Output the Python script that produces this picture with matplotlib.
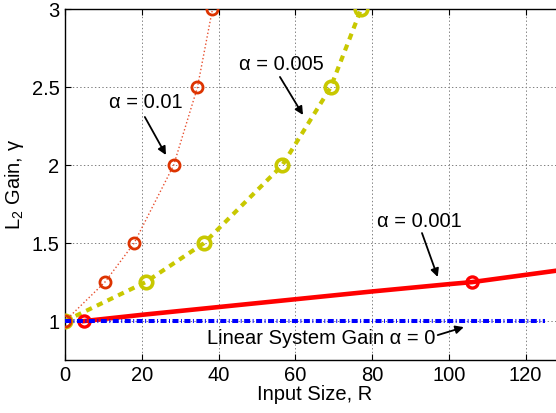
import matplotlib
matplotlib.use("Agg")
import matplotlib.pyplot as plt
from matplotlib.ticker import FormatStrFormatter

plt.rcParams['font.family'] = ['Liberation Sans', 'DejaVu Sans']
plt.rcParams['mathtext.fontset'] = 'custom'
plt.rcParams['mathtext.rm'] = 'Liberation Sans'
plt.rcParams['mathtext.it'] = 'Liberation Sans:italic'
plt.rcParams['lines.scale_dashes'] = False

# Data
R_a01 = [0, 10.4, 18.0, 28.3, 34.5, 38.4]
G_a01 = [1.0, 1.25, 1.5, 2.0, 2.5, 3.0]

R_a005 = [0, 21.0, 36.2, 56.6, 69.2, 77.1]
G_a005 = [1.0, 1.25, 1.5, 2.0, 2.5, 3.0]

R_a001 = [5, 20, 40, 60, 80, 100, 106, 130]
G_a001 = [1.0, 1.04, 1.09, 1.14, 1.19, 1.237, 1.25, 1.33]
mark_a001 = [0, 6]

R_lin = [0, 125]
G_lin = [1.0, 1.0]

xticks = [0, 20, 40, 60, 80, 100, 120]
yticks = [1, 1.5, 2, 2.5, 3]

FS = 14.5

fig = plt.figure(figsize=(5.56, 4.13), dpi=100)
ax = fig.add_axes([0.1169, 0.1283, 0.8975, 0.8487])

ax.plot(R_a005, G_a005, color='#c8c800', lw=3.0, dashes=(4.5, 4.0),
        marker='o', ms=9, mfc='none', mec='#c8c800', mew=2.6, zorder=3)
ax.plot(R_a01, G_a01, color='#e85030', lw=1.0, ls=':',
        marker='o', ms=8, mfc='none', mec='#dd3300', mew=2.0, zorder=4)
ax.plot(R_a001, G_a001, color='#ff0000', lw=3.3, ls='-',
        marker='o', ms=8, mfc='none', mec='#ff0000', mew=2.4,
        markevery=mark_a001, zorder=5)
ax.plot(R_lin, G_lin, color='#0000ff', lw=2.9, dashes=(4.3, 1.8, 0.7, 1.8), zorder=6)

ax.set_xlim(0, 130)
ax.set_ylim(0.75, 3)
ax.set_xticks(xticks)
ax.set_yticks(yticks)
ax.yaxis.set_major_formatter(FormatStrFormatter('%g'))
ax.tick_params(direction='in', top=True, right=True, length=4, width=0.8,
               labelsize=FS, pad=4)
ax.grid(True, ls=':', color='0.5', lw=0.7)
for s in ax.spines.values():
    s.set_linewidth(1.0)

ax.set_xlabel('Input Size, R', fontsize=FS, labelpad=0)
ax.set_ylabel('L$_2$ Gain, γ', fontsize=FS, labelpad=4)

arrow = dict(arrowstyle='-|>', color='k', lw=1.3, mutation_scale=12,
             shrinkA=0, shrinkB=0)

ax.text(21.1, 2.40, 'α = 0.01', fontsize=FS, ha='center', va='center')
ax.annotate('', xy=(26.3, 2.066), xytext=(20.8, 2.31), arrowprops=arrow)

ax.text(56.5, 2.644, 'α = 0.005', fontsize=FS, ha='center', va='center')
ax.annotate('', xy=(62.0, 2.323), xytext=(56.0, 2.567), arrowprops=arrow)

ax.text(92.4, 1.636, 'α = 0.001', fontsize=FS, ha='center', va='center')
ax.annotate('', xy=(97.1, 1.283), xytext=(93.0, 1.565), arrowprops=arrow)

ax.text(66.7, 0.891, 'Linear System Gain α = 0', fontsize=FS, ha='center', va='center')
ax.annotate('', xy=(103.9, 0.961), xytext=(97.1, 0.910), arrowprops=arrow)

fig.savefig('out.png', dpi=100)
